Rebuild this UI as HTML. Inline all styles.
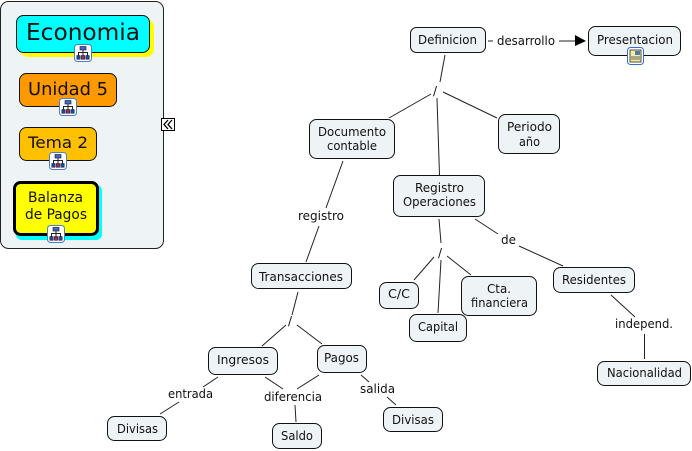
<!DOCTYPE html>
<html><head><meta charset="utf-8"><style>
html,body{margin:0;padding:0;background:#fff}
svg{display:block}
text{font-family:"DejaVu Sans","Liberation Sans",sans-serif;font-size:12px;fill:#111}
.n{fill:#eef3f6;stroke:#111;stroke-width:1}
.l{stroke:#222;stroke-width:1;fill:none}
</style></head><body>
<svg width="692" height="451" viewBox="0 0 692 451" xmlns="http://www.w3.org/2000/svg">
<defs>
<symbol id="ic" viewBox="0 0 18 18">
<rect x=".5" y=".5" width="17" height="17" rx="3" fill="#fff" stroke="#4a7fd0"/>
<rect x="6" y="2.500" width="6" height="3.500" fill="#4466cc" stroke="#112" stroke-width=".6"/>
<path d="M9 6V12M4.500 12V8.500H13.500V12" stroke="#222" fill="none"/>
<rect x="2.800" y="11.500" width="3.400" height="3.800" fill="#224499" stroke="#112" stroke-width=".5"/><rect x="7.300" y="11.500" width="3.400" height="3.800" fill="#993355" stroke="#112" stroke-width=".5"/><rect x="11.800" y="11.500" width="3.400" height="3.800" fill="#224499" stroke="#112" stroke-width=".5"/>
</symbol>
</defs>

<rect x=".5" y="1.500" width="163" height="247" rx="8" fill="#eef3f6" stroke="#222"/>
<rect x="20" y="19" width="134" height="38" rx="8" fill="#ffff00"/>
<rect x="16.500" y="15.500" width="133" height="37" rx="7" fill="#00ffff" stroke="#111"/>
<text x="26" y="40" style="font-size:23px" textLength="114" lengthAdjust="spacingAndGlyphs">Economia</text>
<use href="#ic" x="74" y="44" width="18" height="18"/>

<rect x="19.500" y="73.500" width="97" height="33" rx="7" fill="#ff9900" stroke="#111"/>
<text x="28" y="95" style="font-size:18px" textLength="80" lengthAdjust="spacingAndGlyphs">Unidad 5</text>
<use href="#ic" x="59" y="98" width="18" height="18"/>

<rect x="19.500" y="127.500" width="77" height="33" rx="7" fill="#ffc000" stroke="#111"/>
<text x="28" y="148" style="font-size:16px" textLength="60" lengthAdjust="spacingAndGlyphs">Tema 2</text>
<use href="#ic" x="49" y="152" width="18" height="18"/>

<rect x="16" y="185" width="86" height="55" rx="6" fill="#00ffff"/>
<rect x="14.500" y="182.500" width="83" height="52" rx="6" fill="#ffff00" stroke="#000" stroke-width="3"/>
<text x="28" y="202" style="font-size:14px" textLength="55" lengthAdjust="spacingAndGlyphs">Balanza</text>
<text x="25" y="219" style="font-size:14px" textLength="62" lengthAdjust="spacingAndGlyphs">de Pagos</text>
<use href="#ic" x="47" y="225" width="18" height="18"/>

<rect x="161.500" y="118.500" width="13" height="12" fill="#fff" stroke="#000"/>
<path d="M168 120L164 124.500L168 129M172 120L168 124.500L172 129" fill="none" stroke="#000" stroke-width="1.300"/>

<path class="l" d="M488 41H493M559 41H575M445 55L440 82M431 94L389 118M443 92L497 118M437 98L439.500 175M343 161L326 208M319 226L306 262M298 292L292 315M286 325L262 346M297 325L322 344M218 377L203 387M179 402L160 414M265 377L283 389M319 375L297 389M295 405L296 422M361 375L369 382M387 397L396 405M439 219L441 243M434 257L414 280M441 260L438 313M447 256L471 275M475 219L498 234M519 246L563 266M611 295L635 317M644.500 334V359"/>
<path d="M575 35L586 41L575 46Z" fill="#000"/>

<rect class="n" x="410.500" y="27.500" width="75" height="25" rx="6"/>
<text x="418" y="44" textLength="59" lengthAdjust="spacingAndGlyphs">Definicion</text>
<text x="497" y="45" textLength="58" lengthAdjust="spacingAndGlyphs">desarrollo</text>
<rect class="n" x="588.500" y="26.500" width="92" height="29" rx="7"/>
<text x="597" y="44" textLength="76" lengthAdjust="spacingAndGlyphs">Presentacion</text>
<rect x="627.500" y="47.500" width="16" height="17" rx="3" fill="#fff" stroke="#3a6fc8"/>
<rect x="630" y="50" width="11" height="12" fill="#f5eeaa" stroke="#222" stroke-width=".8"/>
<rect x="635" y="51" width="5" height="4" fill="#5577aa"/>
<path d="M631 57H640M631 59H640" stroke="#333" stroke-width=".8"/>

<text x="433" y="95">/</text>
<rect class="n" x="498.500" y="114.500" width="61" height="39" rx="7"/>
<text x="507" y="131" textLength="45" lengthAdjust="spacingAndGlyphs">Periodo</text>
<text x="519" y="146" textLength="21" lengthAdjust="spacingAndGlyphs">año</text>

<rect class="n" x="309.500" y="119.500" width="85" height="39" rx="7"/>
<text x="318" y="136" textLength="68" lengthAdjust="spacingAndGlyphs">Documento</text>
<text x="327" y="150" textLength="50" lengthAdjust="spacingAndGlyphs">contable</text>
<text x="298" y="220" textLength="46" lengthAdjust="spacingAndGlyphs">registro</text>

<rect class="n" x="251.500" y="263.500" width="100" height="25" rx="7"/>
<text x="259" y="281" textLength="84" lengthAdjust="spacingAndGlyphs">Transacciones</text>
<text x="288" y="325">/</text>

<rect class="n" x="208.500" y="347.500" width="69" height="27" rx="7"/>
<text x="217" y="364" textLength="52" lengthAdjust="spacingAndGlyphs">Ingresos</text>
<rect class="n" x="317.500" y="345.500" width="49" height="27" rx="7"/>
<text x="324" y="362" textLength="35" lengthAdjust="spacingAndGlyphs">Pagos</text>
<text x="168" y="398" textLength="45" lengthAdjust="spacingAndGlyphs">entrada</text>
<rect class="n" x="107.500" y="416.500" width="59" height="24" rx="7"/>
<text x="117" y="433" textLength="41" lengthAdjust="spacingAndGlyphs">Divisas</text>
<text x="264" y="401" textLength="58" lengthAdjust="spacingAndGlyphs">diferencia</text>
<rect class="n" x="272.500" y="423.500" width="49" height="25" rx="7"/>
<text x="281" y="440" textLength="32" lengthAdjust="spacingAndGlyphs">Saldo</text>
<text x="360" y="393" textLength="35" lengthAdjust="spacingAndGlyphs">salida</text>
<rect class="n" x="383.500" y="407.500" width="59" height="24" rx="7"/>
<text x="392" y="424" textLength="42" lengthAdjust="spacingAndGlyphs">Divisas</text>

<rect class="n" x="393.500" y="175.500" width="91" height="41" rx="7"/>
<text x="415" y="192" textLength="49" lengthAdjust="spacingAndGlyphs">Registro</text>
<text x="403" y="206" textLength="73" lengthAdjust="spacingAndGlyphs">Operaciones</text>
<text x="438" y="257">/</text>

<rect class="n" x="379.500" y="282.500" width="39" height="26" rx="7"/>
<text x="388" y="298" textLength="22" lengthAdjust="spacingAndGlyphs">C/C</text>
<rect class="n" x="461.500" y="276.500" width="75" height="39" rx="7"/>
<text x="487" y="293" textLength="24" lengthAdjust="spacingAndGlyphs">Cta.</text>
<text x="471" y="307" textLength="57" lengthAdjust="spacingAndGlyphs">financiera</text>
<rect class="n" x="409.500" y="314.500" width="57" height="27" rx="7"/>
<text x="418" y="331" textLength="40" lengthAdjust="spacingAndGlyphs">Capital</text>

<text x="501" y="244" textLength="15" lengthAdjust="spacingAndGlyphs">de</text>
<rect class="n" x="553.500" y="267.500" width="81" height="25" rx="7"/>
<text x="562" y="284" textLength="64" lengthAdjust="spacingAndGlyphs">Residentes</text>
<text x="615" y="328" textLength="58" lengthAdjust="spacingAndGlyphs">independ.</text>
<rect class="n" x="597.500" y="361.500" width="93" height="24" rx="7"/>
<text x="607" y="377" textLength="75" lengthAdjust="spacingAndGlyphs">Nacionalidad</text>
</svg>
</body></html>
